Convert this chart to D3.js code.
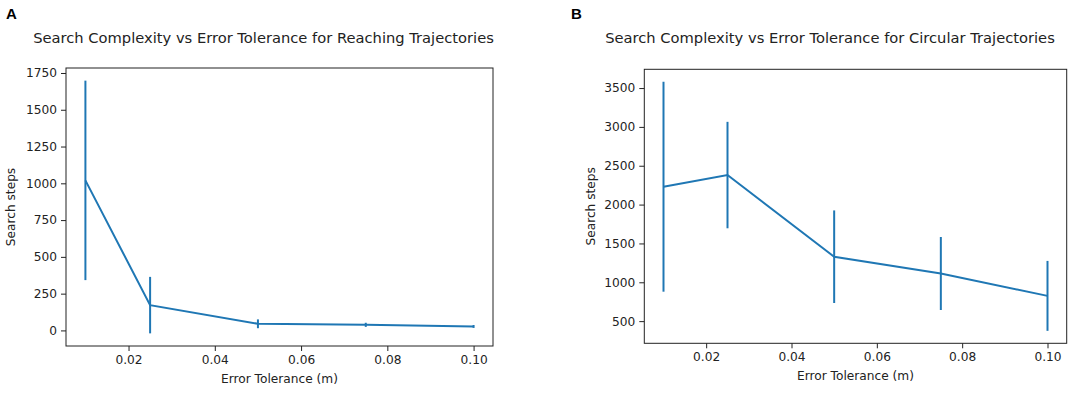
<!DOCTYPE html>
<html lang="en">
<head>
    <meta charset="UTF-8">
    <title>Search Complexity vs Error Tolerance</title>
    <script src="https://d3js.org/d3.v7.min.js"></script>
    <style>
        body { margin: 0; background: #fff; font-family: "DejaVu Sans", sans-serif; }
        .tick text { font-size: 12.2px; fill: #222; font-family: "DejaVu Sans", sans-serif; }
        .axis-label { font-size: 12.2px; fill: #222; }
        .chart-title { font-size: 14.7px; fill: #222; text-anchor: middle; }
        .panel-label { font-size: 15px; font-weight: bold; fill: #000; font-family: "Liberation Sans", Arial, sans-serif; }
    </style>
</head>
<body>
    <svg width="1084" height="397"></svg>
    <script>
        // values
        const tolerance = [0.01, 0.025, 0.05, 0.075, 0.10];
        const reachMean = [1020, 172, 45, 38, 27];
        const reachErr = [678, 192, 30, 14, 10];
        const circMean = [2230, 2380, 1329, 1113, 825];
        const circErr = [1351, 685, 596, 470, 450];
        const xTicks = [0.02, 0.04, 0.06, 0.08, 0.10];
        const reachYTicks = [0, 250, 500, 750, 1000, 1250, 1500, 1750];
        const circYTicks = [500, 1000, 1500, 2000, 2500, 3000, 3500];

        const svg = d3.select("svg");
        const color = "#1f77b4";

        // matplotlib-like 5% margins around the data
        function padded(lo, hi) {
            const m = (hi - lo) * 0.05;
            return [lo - m, hi + m];
        }

        function panel(opt) {
            const { left, right, top, bottom, mean, err, yTicks } = opt;
            const data = tolerance.map((t, i) => ({ t, m: mean[i], e: err[i] }));

            const x = d3.scaleLinear()
                .domain(padded(d3.min(tolerance), d3.max(tolerance)))
                .range([left, right]);
            const y = d3.scaleLinear()
                .domain(padded(d3.min(data, d => d.m - d.e), d3.max(data, d => d.m + d.e)))
                .range([bottom, top]);

            const g = svg.append("g");

            g.append("g")
                .attr("transform", `translate(0,${bottom})`)
                .call(d3.axisBottom(x).tickValues(xTicks).tickFormat(d3.format(".2f")).tickSize(5).tickPadding(4))
                .call(a => a.select(".domain").remove());

            g.append("g")
                .attr("transform", `translate(${left},0)`)
                .call(d3.axisLeft(y).tickValues(yTicks).tickFormat(d3.format("d")).tickSize(5).tickPadding(4))
                .call(a => a.select(".domain").remove());

            g.selectAll(".tick line").attr("stroke", "#222");

            // error bars
            g.selectAll(".err")
                .data(data)
                .enter()
                .append("line")
                .attr("x1", d => x(d.t))
                .attr("x2", d => x(d.t))
                .attr("y1", d => y(d.m - d.e))
                .attr("y2", d => y(d.m + d.e))
                .attr("stroke", color)
                .attr("stroke-width", 2);

            g.append("path")
                .datum(data)
                .attr("fill", "none")
                .attr("stroke", color)
                .attr("stroke-width", 2)
                .attr("d", d3.line().x(d => x(d.t)).y(d => y(d.m)));

            g.append("rect")
                .attr("x", left)
                .attr("y", top)
                .attr("width", right - left)
                .attr("height", bottom - top)
                .attr("fill", "none")
                .attr("stroke", "#222")
                .attr("stroke-width", 1);

            g.append("text")
                .attr("class", "axis-label")
                .attr("x", (left + right) / 2)
                .attr("y", bottom + 37)
                .attr("text-anchor", "middle")
                .text("Error Tolerance (m)");

            g.append("text")
                .attr("class", "axis-label")
                .attr("transform", `translate(${opt.yLabelX},${(top + bottom) / 2}) rotate(-90)`)
                .attr("text-anchor", "middle")
                .text("Search steps");

            g.append("text")
                .attr("class", "chart-title")
                .attr("x", opt.titleX)
                .attr("y", 43)
                .text(opt.title);

            g.append("text")
                .attr("class", "panel-label")
                .attr("x", opt.labelX)
                .attr("y", 19)
                .text(opt.label);
        }

        panel({
            left: 66, right: 493, top: 68, bottom: 346,
            mean: reachMean, err: reachErr, yTicks: reachYTicks,
            yLabelX: 15, titleX: 263.5, labelX: 6, label: "A",
            title: "Search Complexity vs Error Tolerance for Reaching Trajectories"
        });

        panel({
            left: 644.3, right: 1066.7, top: 69.3, bottom: 343.3,
            mean: circMean, err: circErr, yTicks: circYTicks,
            yLabelX: 595, titleX: 830, labelX: 571, label: "B",
            title: "Search Complexity vs Error Tolerance for Circular Trajectories"
        });
    </script>
</body>
</html>
